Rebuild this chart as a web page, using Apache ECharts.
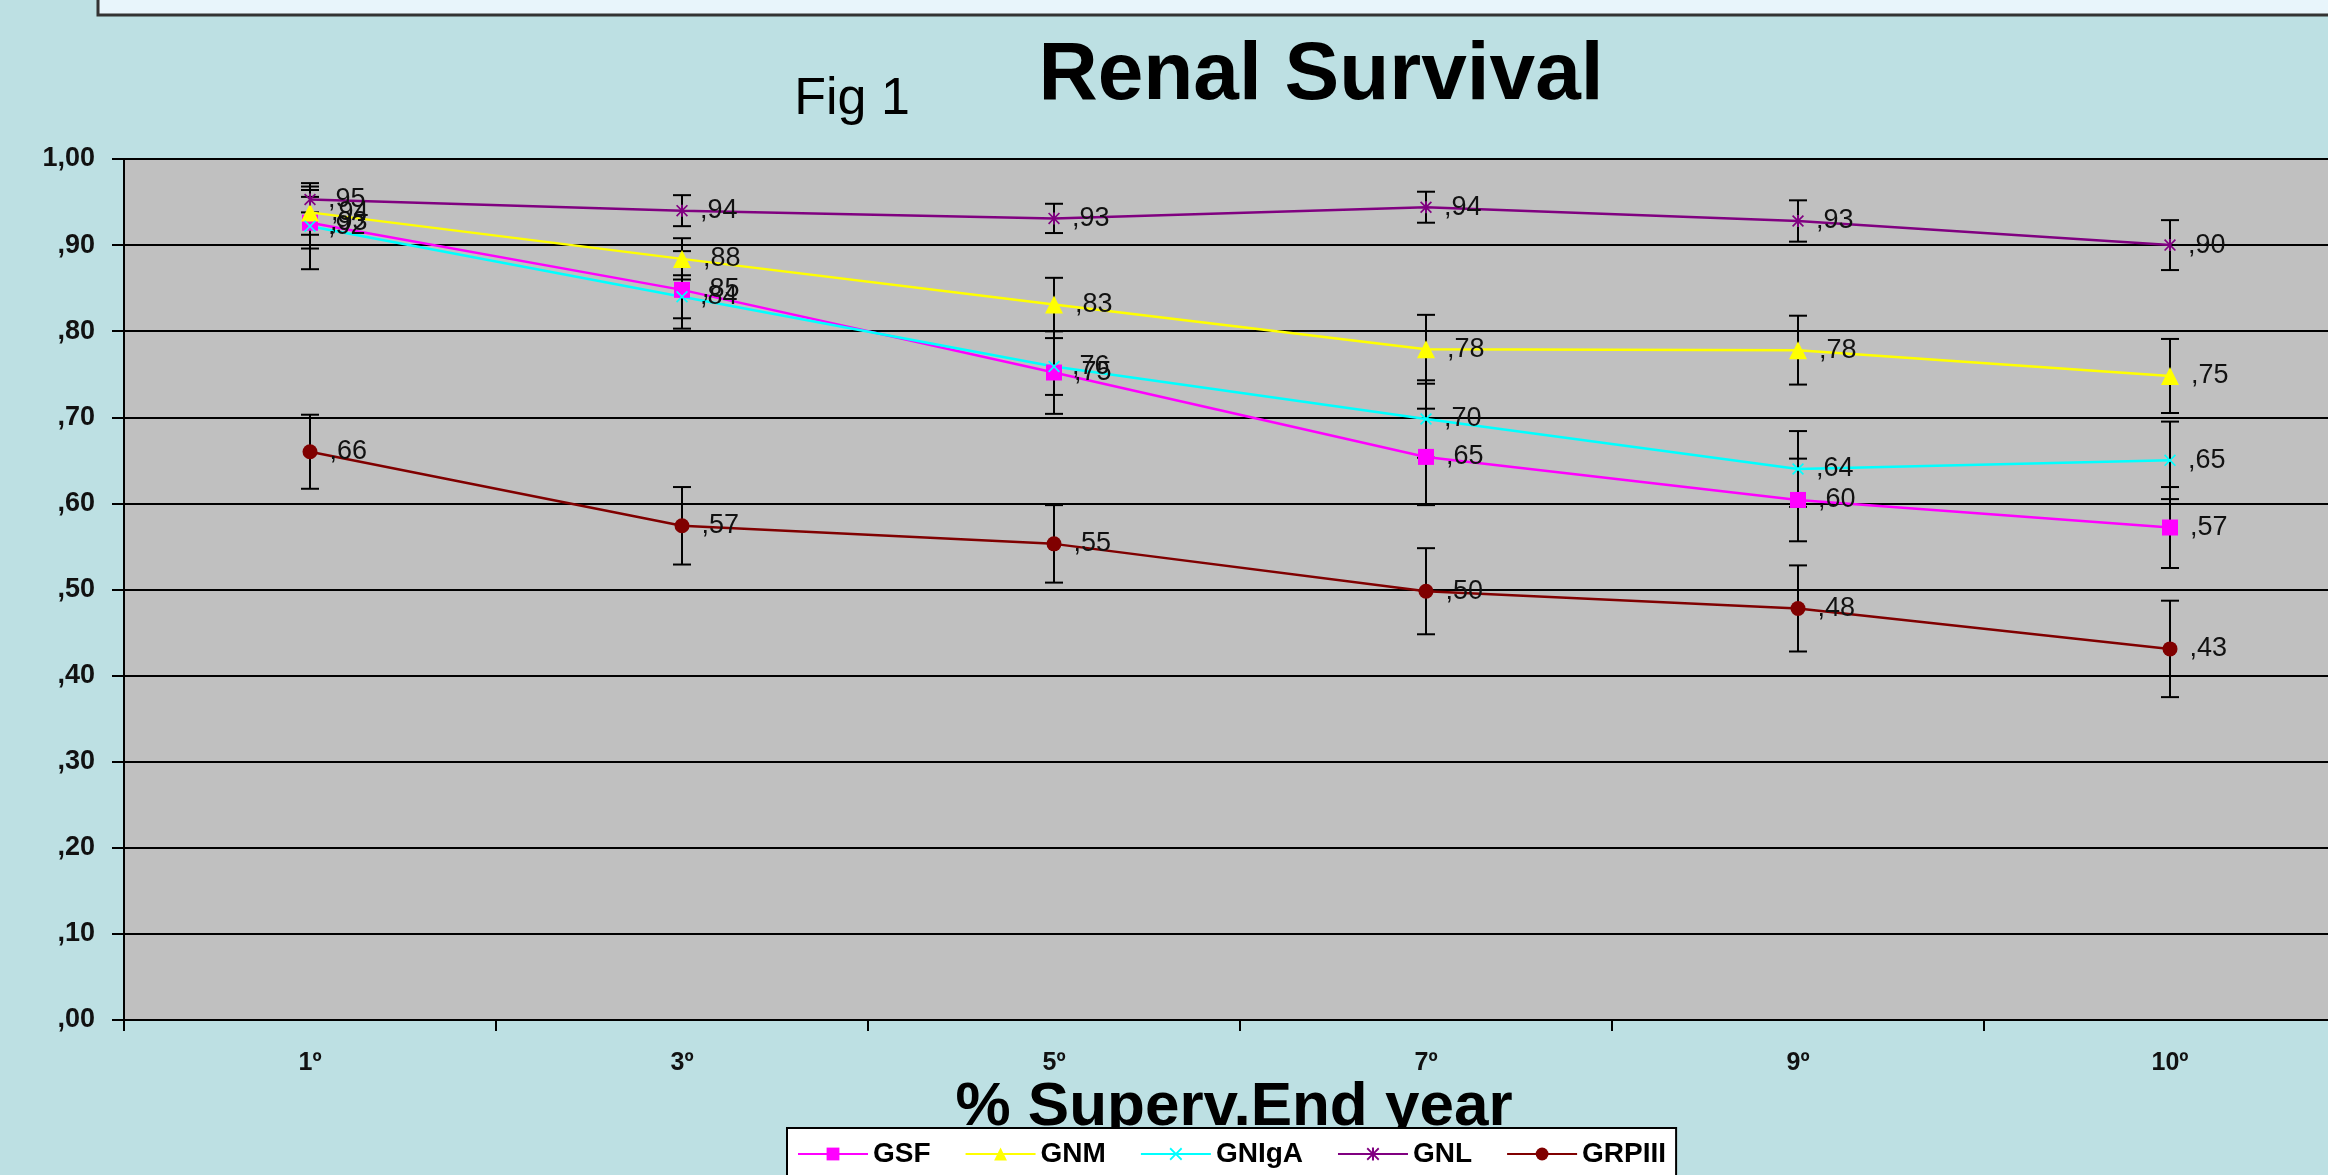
<!DOCTYPE html>
<html>
<head>
<meta charset="utf-8">
<title>Renal Survival</title>
<script src="https://cdn.jsdelivr.net/npm/echarts@6/dist/echarts.min.js"></script>
<style>
html, body { margin: 0; padding: 0; background: #bde0e3; }
#chart { width: 2328px; height: 1175px; }
</style>
</head>
<body>
<div id="chart"></div>
<script>
const years = ['1º', '3º', '5º', '7º', '9º', '10º']
const yLabels = [',00', ',10', ',20', ',30', ',40', ',50', ',60', ',70', ',80', ',90', '1,00']

const gsf = [0.926, 0.848, 0.752, 0.654, 0.604, 0.572]
const gnm = [0.938, 0.884, 0.831, 0.779, 0.778, 0.748]
const gniga = [0.922, 0.840, 0.759, 0.698, 0.640, 0.650]
const gnl = [0.953, 0.940, 0.931, 0.944, 0.928, 0.900]
const grpiii = [0.660, 0.574, 0.553, 0.498, 0.478, 0.431]

// half width of the error bars
const gsfErr = [0.030, 0.045, 0.048, 0.056, 0.048, 0.047]
const gnmErr = [0.026, 0.024, 0.031, 0.040, 0.040, 0.043]
const gnigaErr = [0.050, 0.025, 0.033, 0.045, 0.044, 0.045]
const gnlErr = [0.015, 0.018, 0.017, 0.018, 0.024, 0.029]
const grpiiiErr = [0.043, 0.045, 0.045, 0.050, 0.050, 0.056]

const font = 'Arial, "Liberation Sans", sans-serif'

const xMark = 'path://M0,1L1,0L5,4L9,0L10,1L6,5L10,9L9,10L5,6L1,10L0,9L4,5Z'
const starMark = 'path://M0,1L1,0L5,4L9,0L10,1L6,5L10,9L9,10L5,6L1,10L0,9L4,5Z M4.2,0L5.8,0L5.8,10L4.2,10Z'

const chart = echarts.init(document.getElementById('chart'))

const groups = [
  {name: 'GSF', data: gsf, err: gsfErr, color: '#ff00ff', symbol: 'rect', size: 16},
  {name: 'GNM', data: gnm, err: gnmErr, color: '#ffff00', symbol: 'triangle', size: 18},
  {name: 'GNIgA', data: gniga, err: gnigaErr, color: '#00ffff', symbol: xMark, size: 12},
  {name: 'GNL', data: gnl, err: gnlErr, color: '#800080', symbol: starMark, size: 12},
  {name: 'GRPIII', data: grpiii, err: grpiiiErr, color: '#800000', symbol: 'circle', size: 15}
]

const errData = []
groups.forEach(g => {
  g.data.forEach((v, i) => {
    errData.push([i, v - g.err[i], v + g.err[i]])
  })
})

const lineSeries = groups.map(g => ({
  name: g.name,
  type: 'line',
  data: g.data,
  symbol: g.symbol,
  symbolSize: g.size,
  showAllSymbol: true,
  z: 3,
  lineStyle: {color: g.color, width: 2.5},
  itemStyle: {color: g.color},
  label: {
    show: true,
    position: 'right',
    distance: 12,
    color: '#111',
    fontFamily: font,
    fontSize: 27,
    formatter: p => ',' + String(Math.round(p.value * 100)).padStart(2, '0')
  },
  emphasis: {disabled: true}
}))

const option = {
  backgroundColor: '#bde0e3',
  animation: false,
  graphic: [
    {
      type: 'rect',
      shape: {x: 98, y: -10, width: 2260, height: 25},
      style: {fill: '#e8f5fb', stroke: '#333', lineWidth: 3}
    },
    {
      type: 'text',
      x: 852, y: 100,
      style: {text: 'Fig 1', font: '52px ' + font, fill: '#000', textAlign: 'center', textVerticalAlign: 'middle'}
    },
    {
      type: 'text',
      x: 1321, y: 76,
      style: {text: 'Renal Survival', font: 'bold 82px ' + font, fill: '#000', textAlign: 'center', textVerticalAlign: 'middle'}
    },
    {
      type: 'text',
      x: 1234, y: 1108,
      style: {text: '% Superv.End year', font: 'bold 62px ' + font, fill: '#000', textAlign: 'center', textVerticalAlign: 'middle'}
    }
  ],
  legend: {
    data: groups.map(g => g.name),
    left: 787,
    top: 1128,
    itemWidth: 70,
    itemHeight: 16,
    itemGap: 34,
    backgroundColor: '#ffffff',
    borderColor: '#000',
    borderWidth: 2,
    borderRadius: 0,
    padding: [12, 10, 30, 10],
    textStyle: {color: '#000', fontFamily: font, fontSize: 28, fontWeight: 'bold'}
  },
  grid: {
    left: 124,
    top: 159,
    width: 2232,
    height: 861,
    outerBoundsMode: 'none',
    show: true,
    backgroundColor: '#c0c0c0',
    borderWidth: 0
  },
  xAxis: {
    type: 'category',
    data: years,
    boundaryGap: true,
    axisLine: {lineStyle: {color: '#000', width: 2}},
    axisTick: {show: true, length: 11, lineStyle: {color: '#000', width: 2}},
    axisLabel: {color: '#111', fontFamily: font, fontSize: 25, fontWeight: 'bold', margin: 31},
    splitLine: {show: false}
  },
  yAxis: {
    type: 'value',
    min: 0,
    max: 1,
    interval: 0.1,
    axisLine: {show: true, lineStyle: {color: '#000', width: 2}},
    axisTick: {show: true, length: 12, lineStyle: {color: '#000', width: 2}},
    axisLabel: {
      color: '#111',
      fontFamily: font,
      fontSize: 27,
      fontWeight: 'bold',
      margin: 29,
      formatter: v => yLabels[Math.round(v * 10)]
    },
    splitLine: {show: true, lineStyle: {color: '#000', width: 2}}
  },
  series: [
    {
      name: 'err',
      type: 'custom',
      z: 2,
      data: errData,
      encode: {x: 0, y: [1, 2]},
      silent: true,
      renderItem(params, api) {
        const x = api.value(0)
        const lo = api.coord([x, api.value(1)])
        const hi = api.coord([x, api.value(2)])
        const w = 9
        const st = {stroke: '#000', lineWidth: 2}
        return {
          type: 'group',
          children: [
            {type: 'line', shape: {x1: lo[0], y1: lo[1], x2: hi[0], y2: hi[1]}, style: st},
            {type: 'line', shape: {x1: lo[0] - w, y1: lo[1], x2: lo[0] + w, y2: lo[1]}, style: st},
            {type: 'line', shape: {x1: hi[0] - w, y1: hi[1], x2: hi[0] + w, y2: hi[1]}, style: st}
          ]
        }
      }
    },
    ...lineSeries
  ]
}

chart.setOption(option)
</script>
</body>
</html>
